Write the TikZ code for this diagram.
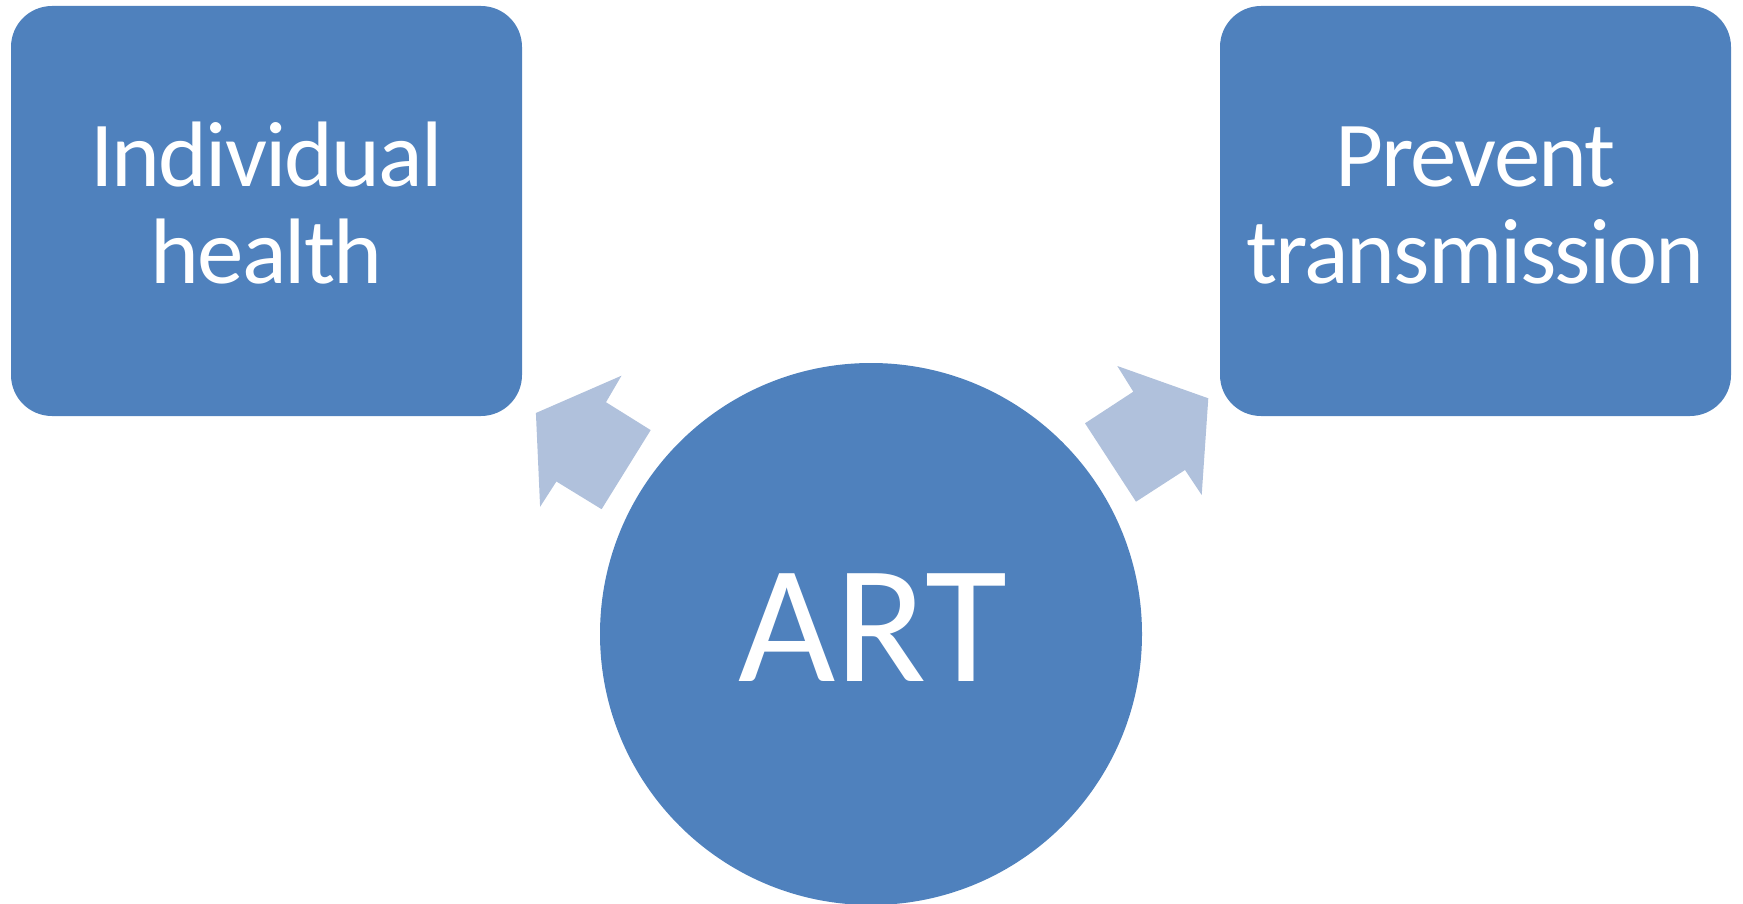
\documentclass[tikz,border=0pt]{standalone}
\usepackage{fontspec}
\setmainfont{Carlito}
\definecolor{boxblue}{RGB}{79,129,189}
\definecolor{arrowblue}{RGB}{176,193,220}
\begin{document}
\begin{tikzpicture}[x=1pt,y=-1pt,
  goalbox/.style={fill=boxblue,draw=none,rounded corners=41pt,minimum width=511pt,minimum height=410pt,inner sep=0pt},
  hub/.style={circle,fill=boxblue,draw=none,minimum size=542pt,inner sep=0pt},
  boxtext/.style={text=white,anchor=base,inner sep=0pt,font=\fontsize{93}{96}\selectfont\addfontfeature{LetterSpace=-2}},
  hubtext/.style={text=white,anchor=base,inner sep=0pt,font=\fontsize{168}{200}\selectfont},
  fatarrow/.style={fill=arrowblue,draw=none}]
\useasboundingbox (0,0) rectangle (1743,904);
\node[goalbox] (left) at (266.5,211) {};
\node[goalbox] (right) at (1475.5,211) {};
\node[hub] (art) at (871,634) {};
\node[boxtext] (l1) at (266.5,187) {Individual};
\node[boxtext] (l2) at (266.5,283.5) {health};
\node[boxtext] (r1) at (1475.5,187) {Prevent};
\node[boxtext] (r2) at (1475.5,283.5) {transmission};
\node[hubtext] (artlabel) at (872.5,681.5) {ART};
\fill[fatarrow] (621.5,375.7) -- (606,402.2) -- (650.7,430.1) -- (601.6,509.2) -- (556.4,481.5) -- (540.1,506.8) -- (535.9,413) -- cycle;
\fill[fatarrow] (1117.3,366) -- (1133.3,391.7) -- (1085,423.3) -- (1136,501.7) -- (1185,470) -- (1201.7,495) -- (1208.3,398.3) -- cycle;
\end{tikzpicture}
\end{document}
